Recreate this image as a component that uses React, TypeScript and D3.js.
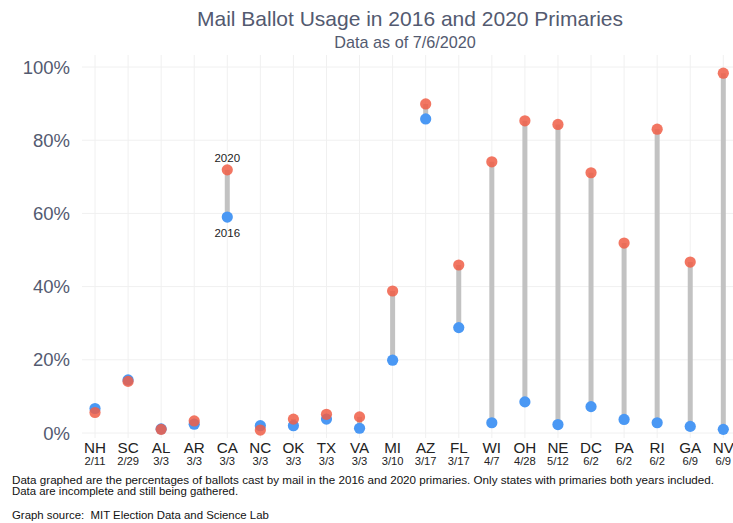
import React from "react";
import * as d3 from "d3";

const states = ["NH","SC","AL","AR","CA","NC","OK","TX","VA","MI","AZ","FL","WI","OH","NE","DC","PA","RI","GA","NV"];
const dates = ["2/11","2/29","3/3","3/3","3/3","3/3","3/3","3/3","3/3","3/10","3/17","3/17","4/7","4/28","5/12","6/2","6/2","6/2","6/9","6/9"];
const pct2016 = [6.7,14.5,1.1,2.4,59.0,2.0,2.0,3.8,1.3,19.9,85.8,28.8,2.8,8.5,2.3,7.2,3.7,2.8,1.8,1.0];
const pct2020 = [5.6,14.1,1.0,3.3,71.9,0.8,3.8,5.1,4.4,38.8,89.9,45.9,74.1,85.3,84.3,71.1,51.9,83.0,46.7,98.3];
const yTicks = [0,20,40,60,80,100];

export default function App() {
  const W = 733, H = 523;
  const x = d3.scalePoint<string>().domain(states).range([95, 723.3]);
  const y = d3.scaleLinear().domain([0, 100]).range([433, 67]);
  const panelLeft = 82, panelTop = 55, panelBottom = 438;
  const slate = "#535a70";
  const font = "'Liberation Sans', Arial, sans-serif";
  const ci = states.indexOf("CA");
  return (
    <svg width={W} height={H} style={{ position: "absolute", left: 0, top: 0, background: "#fff" }} fontFamily={font}>
      <rect x={0} y={0} width={W} height={H} fill="#fff" />
      <text x={410} y={26} textAnchor="middle" fontSize={21} fill={slate}>Mail Ballot Usage in 2016 and 2020 Primaries</text>
      <text x={405} y={48} textAnchor="middle" fontSize={16.2} fill={slate}>Data as of 7/6/2020</text>
      {yTicks.map(t => (
        <line key={"h"+t} x1={panelLeft} x2={W} y1={y(t)} y2={y(t)} stroke="#f0f0f0" strokeWidth={1} />
      ))}
      {states.map(s => (
        <line key={"v"+s} x1={x(s)} x2={x(s)} y1={panelTop} y2={panelBottom} stroke="#f0f0f0" strokeWidth={1} />
      ))}
      {yTicks.map(t => (
        <text key={"yl"+t} x={70} y={y(t) + 6.5} textAnchor="end" fontSize={18.5} fill={slate}>{t}%</text>
      ))}
      {states.map((s, i) => (
        <line key={"s"+s} x1={x(s)} x2={x(s)} y1={y(pct2016[i])} y2={y(pct2020[i])} stroke="#c2c2c2" strokeWidth={5} />
      ))}
      {states.map((s, i) => (
        <circle key={"b"+s} cx={x(s)} cy={y(pct2016[i])} r={5.6} fill="#4a98f4" />
      ))}
      {states.map((s, i) => (
        <circle key={"r"+s} cx={x(s)} cy={y(pct2020[i])} r={5.6} fill="#f05e47" fillOpacity={0.85} />
      ))}
      <text x={x("CA")} y={y(pct2020[ci]) - 8} textAnchor="middle" fontSize={11.5} fill="#222">2020</text>
      <text x={x("CA")} y={y(pct2016[ci]) + 19.5} textAnchor="middle" fontSize={11.5} fill="#222">2016</text>
      {states.map((s, i) => (
        <g key={"xl"+s}>
          <text x={x(s)} y={453} textAnchor="middle" fontSize={15.2} fill="#222">{s}</text>
          <text x={x(s)} y={465} textAnchor="middle" fontSize={11.2} fill="#222">{dates[i]}</text>
        </g>
      ))}
      <text x={12} y={484} fontSize={11.4} fill="#111" textLength={702} lengthAdjust="spacingAndGlyphs">Data graphed are the percentages of ballots cast by mail in the 2016 and 2020 primaries. Only states with primaries both years included.</text>
      <text x={12} y={495} fontSize={11.4} fill="#111">Data are incomplete and still being gathered.</text>
      <text x={12} y={519} fontSize={11.4} fill="#111" xmlSpace="preserve">Graph source:  MIT Election Data and Science Lab</text>
    </svg>
  );
}
